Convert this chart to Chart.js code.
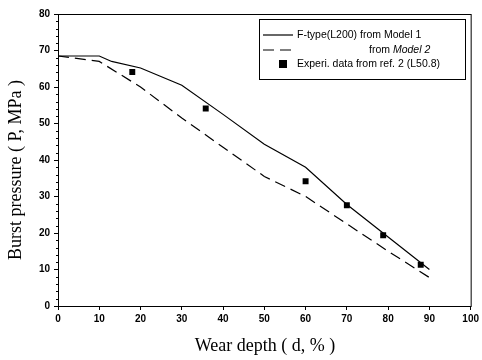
<!DOCTYPE html>
<html>
<head>
<meta charset="utf-8">
<script src="https://cdn.jsdelivr.net/npm/chart.js@4.4.1/dist/chart.umd.min.js"></script>
<style>
  html, body { margin: 0; padding: 0; background: #fff; }
  #canvas_div { width: 482px; height: 360px; }
</style>
</head>
<body>
<div id="canvas_div"><canvas id="myChart"></canvas></div>
<script>
// wear depth (%) and burst pressure (MPa)
const depthModel1 = [0, 10, 13, 20, 30, 40, 50, 60, 70, 80, 90];
const pressModel1 = [68.5, 68.5, 67, 65.2, 60.5, 52.5, 44.3, 38, 27.8, 18.9, 10];

const depthModel2 = [0, 10, 20, 30, 40, 50, 60, 70, 80, 90];
const pressModel2 = [68.5, 67, 60, 51.5, 43.5, 35.5, 30, 22.5, 15, 7.8];

const depthExp = [18, 35.8, 60, 70, 78.8, 87.9];
const pressExp = [64.1, 54.1, 34.2, 27.6, 19.4, 11.3];

const legendLabels = ["F-type(L200) from Model 1", "from ", "Model 2", "Experi. data from ref. 2 (L50.8)"];
const xTitle = "Wear depth ( d, % )";
const yTitle = "Burst pressure ( P, MPa )";

const toPoints = (xs, ys) => xs.map((x, i) => ({ x: x, y: ys[i] }));

const tickFont = { family: "'Liberation Sans', Arial, sans-serif", size: 10, weight: "bold" };

const frameAndText = {
  id: "frameAndText",
  afterDraw(chart) {
    const ctx = chart.ctx;
    const area = chart.chartArea;
    const yScale = chart.scales.y;
    ctx.save();
    ctx.strokeStyle = "#000";
    ctx.lineWidth = 1;
    ctx.strokeRect(area.left + 0.5, area.top + 0.5, area.right - area.left, area.bottom - area.top);

    // minor ticks on y axis
    ctx.beginPath();
    for (let v = 0; v <= 80; v += 2) {
      if (v % 10 === 0) continue;
      const py = Math.round(yScale.getPixelForValue(v)) + 0.5;
      ctx.moveTo(area.left - 2, py);
      ctx.lineTo(area.left, py);
    }
    ctx.stroke();

    // axis titles
    ctx.fillStyle = "#000";
    ctx.font = "18px 'Liberation Serif', 'Times New Roman', serif";
    ctx.textAlign = "center";
    ctx.textBaseline = "middle";
    ctx.fillText(xTitle, 265, 346);
    ctx.translate(16, 170);
    ctx.rotate(-Math.PI / 2);
    ctx.fillText(yTitle, 0, 0);
    ctx.restore();

    // legend
    ctx.save();
    ctx.strokeStyle = "#000";
    ctx.fillStyle = "#000";
    ctx.lineWidth = 1;
    ctx.strokeRect(259.5, 19.5, 206, 60);
    ctx.lineWidth = 1.2;
    ctx.beginPath();
    ctx.moveTo(263, 35);
    ctx.lineTo(293, 35);
    ctx.stroke();
    ctx.setLineDash([11, 6]);
    ctx.beginPath();
    ctx.moveTo(263, 50);
    ctx.lineTo(293, 50);
    ctx.stroke();
    ctx.setLineDash([]);
    ctx.fillRect(279, 60, 8, 8);

    ctx.font = "10.5px 'Liberation Sans', Arial, sans-serif";
    ctx.textBaseline = "middle";
    ctx.textAlign = "left";
    ctx.fillText(legendLabels[0], 297, 35);
    const w1 = ctx.measureText(legendLabels[1]).width;
    ctx.fillText(legendLabels[1], 369, 50);
    ctx.font = "italic 10.5px 'Liberation Sans', Arial, sans-serif";
    ctx.fillText(legendLabels[2], 369 + w1, 50);
    ctx.font = "10.5px 'Liberation Sans', Arial, sans-serif";
    ctx.fillText(legendLabels[3], 297, 64);
    ctx.restore();
  }
};

const config = {
  type: "scatter",
  data: {
    datasets: [
      {
        label: legendLabels[0],
        data: toPoints(depthModel1, pressModel1),
        showLine: true,
        borderColor: "#000",
        borderWidth: 1.2,
        pointRadius: 0,
        tension: 0
      },
      {
        label: legendLabels[2],
        data: toPoints(depthModel2, pressModel2),
        showLine: true,
        borderColor: "#000",
        borderWidth: 1.2,
        borderDash: [11, 6],
        pointRadius: 0,
        tension: 0
      },
      {
        label: legendLabels[3],
        data: toPoints(depthExp, pressExp),
        showLine: false,
        pointStyle: "rect",
        pointRadius: 4.2,
        backgroundColor: "#000",
        borderColor: "#000",
        borderWidth: 0
      }
    ]
  },
  options: {
    responsive: true,
    maintainAspectRatio: false,
    animation: false,
    layout: { padding: { left: 0, top: 14, right: 11, bottom: 0 } },
    plugins: { legend: { display: false }, tooltip: { enabled: false } },
    scales: {
      x: {
        type: "linear",
        min: 0,
        max: 100,
        ticks: { stepSize: 10, color: "#000", font: tickFont, padding: 3, maxRotation: 0 },
        grid: { drawOnChartArea: false, drawTicks: true, tickLength: 4, color: "#000" },
        border: { color: "#000", width: 1 },
        afterFit: (scale) => { scale.height = 54; }
      },
      y: {
        type: "linear",
        min: 0,
        max: 80,
        ticks: { stepSize: 10, color: "#000", font: tickFont, padding: 4 },
        grid: { drawOnChartArea: false, drawTicks: true, tickLength: 4, color: "#000" },
        border: { color: "#000", width: 1 },
        afterFit: (scale) => { scale.width = 58; }
      }
    }
  },
  plugins: [frameAndText]
};

window.onload = () => {
  new Chart(document.getElementById("myChart"), config);
};
</script>
</body>
</html>
